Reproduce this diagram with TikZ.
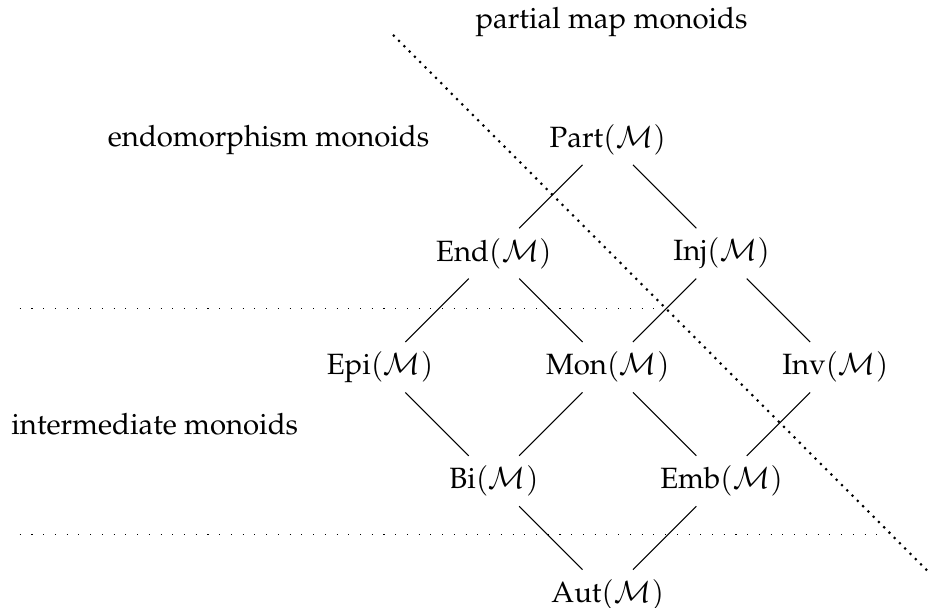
\documentclass[tikz,border=0pt]{standalone}
\usepackage[T1]{fontenc}
\usepackage{mathpazo}
\usepackage{tikz}
\usetikzlibrary{positioning}

\tikzset{
  lattice/.style={shorten >=0.47cm, shorten <=0.47cm},
  divider/.style={loosely dotted},
  cutline/.style={thick, dotted}
}

\begin{document}
\begin{tikzpicture}[font=\fontsize{11}{13.5}\selectfont]
    \path[use as bounding box] (-8.01,-0.17) rectangle (4.26,7.84);
    \node (Part) at (0,6) {Part$(\mathcal{M})$};
    \node (End) at (-1.5,4.5) {End$(\mathcal{M})$};
    \node (Inj) at (1.5,4.5) {Inj$(\mathcal{M})$};
    \node (Epi) at (-3,3) {Epi$(\mathcal{M})$};
    \node (Mon) at (0,3) {Mon$(\mathcal{M})$};
    \node (Inv) at (3,3) {Inv$(\mathcal{M})$};
    \node (Bi) at (-1.5,1.5) {Bi$(\mathcal{M})$};
    \node (Emb) at (1.5,1.5) {Emb$(\mathcal{M})$};
    \node (Aut) at (0,0) {Aut$(\mathcal{M})$};

    \node (partial) at (0.05,7.55) {partial map monoids};
    \node (endo) at (-4.47,6) {endomorphism monoids};
    \node (inter) at (-5.97,2.25) {intermediate monoids};

    \draw[lattice] (Part.center) -- (End.center);
    \draw[lattice] (Part.center) -- (Inj.center);
    \draw[lattice] (End.center) -- (Epi.center);
    \draw[lattice] (End.center) -- (Mon.center);
    \draw[lattice] (Inj.center) -- (Mon.center);
    \draw[lattice] (Inj.center) -- (Inv.center);
    \draw[lattice] (Epi.center) -- (Bi.center);
    \draw[lattice] (Mon.center) -- (Bi.center);
    \draw[lattice] (Mon.center) -- (Emb.center);
    \draw[lattice] (Inv.center) -- (Emb.center);
    \draw[lattice] (Bi.center) -- (Aut.center);
    \draw[lattice] (Emb.center) -- (Aut.center);

    \draw[divider] (-7.75,3.78) -- (0.72,3.78);
    \draw[divider] (-7.75,0.79) -- (3.62,0.79);
    \draw[cutline] (-2.83,7.38) -- (4.24,0.29);
\end{tikzpicture}
\end{document}
